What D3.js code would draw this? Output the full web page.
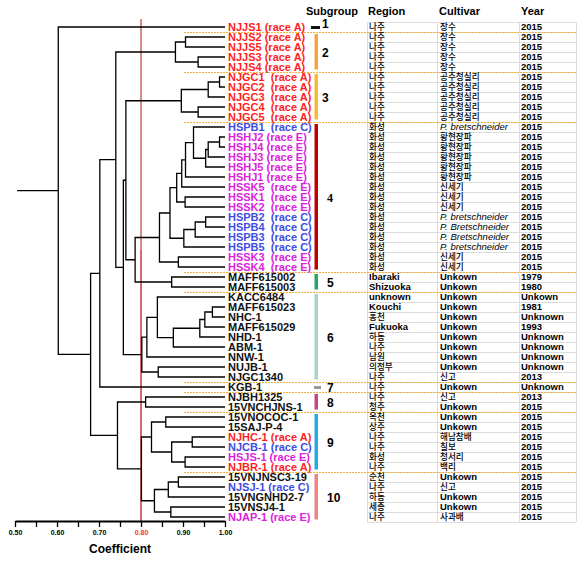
<!DOCTYPE html>
<html><head><meta charset="utf-8">
<script src="https://cdn.jsdelivr.net/npm/d3@7"></script>
<style>
body{margin:0;background:#fff;}
svg{display:block;font-family:"Liberation Sans",Arial,sans-serif;}
</style></head><body>
<svg id="c" width="577" height="562"></svg>
<script>
// ---------- DATA ----------
const leafIds = ["NJJS1","NJJS2","NJJS5","NJJS3","NJJS4","NJGC1","NJGC2","NJGC3","NJGC4","NJGC5",
 "HSPB1","HSHJ2","HSHJ4","HSHJ3","HSHJ5","HSHJ1","HSSK5","HSSK1","HSSK2","HSPB2","HSPB4","HSPB3","HSPB5","HSSK3","HSSK4",
 "MAFF615002","MAFF615003","KACC6484","MAFF615023","NHC-1","MAFF615029","NHD-1","ABM-1","NNW-1","NUJB-1","NJGC1340",
 "KGB-1","NJBH1325","15VNCHJNS-1","15VNOCOC-1","15SAJ-P-4","NJHC-1","NJCB-1","HSJS-1","NJBR-1",
 "15VNJNSC3-19","NJSJ-1","15VNGNHD2-7","15VNSJ4-1","NJAP-1"];
const leafLabels = ["NJJS1 (race A)","NJJS2 (race A)","NJJS5 (race A)","NJJS3 (race A)","NJJS4 (race A)",
 "NJGC1  (race A)","NJGC2  (race A)","NJGC3  (race A)","NJGC4  (race A)","NJGC5  (race A)",
 "HSPB1  (race C)","HSHJ2 (race E)","HSHJ4 (race E)","HSHJ3 (race E)","HSHJ5 (race E)","HSHJ1 (race E)",
 "HSSK5  (race E)","HSSK1  (race E)","HSSK2  (race E)","HSPB2  (race C)","HSPB4  (race C)","HSPB3  (race C)","HSPB5  (race C)",
 "HSSK3  (race E)","HSSK4  (race E)",
 "MAFF615002","MAFF615003","KACC6484","MAFF615023","NHC-1","MAFF615029","NHD-1","ABM-1","NNW-1","NUJB-1","NJGC1340",
 "KGB-1","NJBH1325","15VNCHJNS-1","15VNOCOC-1","15SAJ-P-4","NJHC-1 (race A)","NJCB-1 (race C)","HSJS-1 (race E)","NJBR-1 (race A)",
 "15VNJNSC3-19","NJSJ-1 (race C)","15VNGNHD2-7","15VNSJ4-1","NJAP-1 (race E)"];
const leafRace = ["A","A","A","A","A","A","A","A","A","A",
 "C","E","E","E","E","E","E","E","E","C","C","C","C","E","E",
 "","","","","","","","","","","",
 "","","","","","A","C","E","A",
 "","C","","","E"];
const raceColors = {A:"#ff1e1e", C:"#3e4ce4", E:"#dd22dd", "":"#111111"};
const regions = ["나주","나주","나주","나주","나주","나주","나주","나주","나주","나주",
 "화성","화성","화성","화성","화성","화성","화성","화성","화성","화성","화성","화성","화성","화성","화성",
 "Ibaraki","Shizuoka","unknown","Kouchi","홍천","Fukuoka","하동","나주","남원","의정부","나주",
 "나주","나주","청주","옥천","상주","나주","나주","화성","나주",
 "순천","나주","하동","세종","나주"];
const cultivars = ["장수","장수","장수","장수","장수","공주청실리","공주청실리","공주청실리","공주청실리","공주청실리",
 "P. bretschneider","황현장파","황현장파","황현장파","황현장파","황현장파","신세기","신세기","신세기",
 "P. bretschneider","P. Bretschneider","P. Bretschneider","P. bretschneider","신세기","신세기",
 "Unkown","Unkown","Unkown","Unkown","Unkown","Unkown","Unkown","Unkown","Unkown","Unkown","신고",
 "Unkown","신고","Unkown","Unkown","Unkown","해남참배","칠보","청서리","백리",
 "Unkown","신고","Unkown","Unkown","사과배"];
const years = ["2015","2015","2015","2015","2015","2015","2015","2015","2015","2015",
 "2015","2015","2015","2015","2015","2015","2015","2015","2015","2015","2015","2015","2015","2015","2015",
 "1979","1980","Unkown","1981","Unknown","1993","Unknown","Unknown","Unknown","Unknown","2013",
 "Unknown","2013","2015","2015","2015","2015","2015","2015","2015",
 "2015","2015","2015","2015","2015"];
// merges: [childA, childB, coefficient]; strings = leaves, numbers = earlier merge index
const merges = [
 ["NJJS2","NJJS5",0.906],        //0
 ["NJJS3","NJJS4",0.936],        //1
 [0,1,0.882],                    //2
 ["NJGC1","NJGC2",0.987],        //3
 [3,"NJGC3",0.960],              //4
 ["NJGC4","NJGC5",0.936],        //5
 [4,5,0.896],                    //6
 ["HSHJ2","HSHJ4",0.987],        //7
 [7,"HSHJ3",0.960],              //8
 [8,"HSHJ5",0.954],              //9
 ["HSPB1",9,0.925],              //10
 [10,"HSHJ1",0.906],             //11
 [11,"HSSK5",0.897],             //12
 ["HSSK1","HSSK2",0.905],        //13
 [12,13,0.885],                  //14
 ["HSPB2","HSPB4",0.954],        //15
 [15,"HSPB3",0.929],             //16
 [16,"HSPB5",0.902],             //17
 [14,17,0.869],                  //18
 ["HSSK3","HSSK4",0.889],        //19
 [18,19,0.844],                  //20
 ["MAFF615002","MAFF615003",0.873], //21
 [20,21,0.786],                  //22
 [6,22,0.764],                   //23
 ["MAFF615023","NHC-1",0.970],   //24
 [24,"MAFF615029",0.952],        //25
 [25,"NHD-1",0.940],             //26
 [26,"ABM-1",0.877],             //27
 ["KACC6484",27,0.839],          //28
 [28,"NNW-1",0.814],             //29
 ["NUJB-1","NJGC1340",0.841],    //30
 [29,30,0.802],                  //31
 [23,31,0.758],                  //32
 [2,32,0.740],                   //33
 [33,"KGB-1",0.702],             //34
 ["NJBH1325","15VNCHJNS-1",0.811], //35
 ["15VNOCOC-1","15SAJ-P-4",0.859], //36
 ["NJHC-1","NJCB-1",0.922],      //37
 ["HSJS-1","NJBR-1",0.905],      //38
 [37,38,0.873],                  //39
 [36,39,0.825],                  //40
 ["15VNJNSC3-19","NJSJ-1",0.889],//41
 [41,"15VNGNHD2-7",0.865],       //42
 ["15VNSJ4-1","NJAP-1",0.871],   //43
 [42,43,0.832],                  //44
 [40,44,0.801],                  //45
 [35,45,0.744],                  //46
 [34,46,0.680],                  //47
 ["NJJS1",47,0.603]              //48 root
];
const subgroupNames = ["1","2","3","4","5","6","7","8","9","10"];
const subgroupFirst = [0,1,5,10,25,27,36,37,39,45];
const subgroupLast  = [0,4,9,24,26,35,36,38,44,49];
const subgroupColors = ["#111111","#f6a53a","#f8bb2e","#c00000","#2aa862","#a6d4c6","#9a9a9a","#c8457f","#27a9e1","#ef8282"];
const axisTicks = [0.50,0.55,0.60,0.65,0.70,0.75,0.80,0.85,0.90,0.95,1.00];
const axisLabelValues = [0.50,0.60,0.70,0.80,0.90,1.00];
const cutoff = 0.80;
const headers = ["Subgroup","Region","Cultivar","Year"];

// ---------- DRAW ----------
const svg = d3.select("#c");
const x = d3.scaleLinear().domain([0.5,1.0]).range([15,225]);
const y = d3.scalePoint().domain(leafIds).range([27,517]);
const rowTop = i => y(leafIds[i]) - 5;

// table grid
const tX = [367,437,519,576];
const grid = svg.append("g").attr("stroke","#dcdcdc").attr("stroke-width",1).attr("shape-rendering","crispEdges");
d3.range(leafIds.length+1).forEach(i=>{
  const yy = (i<leafIds.length? rowTop(i) : rowTop(i-1)+10);
  grid.append("line").attr("x1",tX[0]).attr("x2",tX[3]).attr("y1",yy+0.5).attr("y2",yy+0.5);
});
tX.forEach(v=>grid.append("line").attr("x1",v+0.5).attr("x2",v+0.5).attr("y1",rowTop(0)).attr("y2",rowTop(leafIds.length-1)+10));

// cutoff line
const cx = x(cutoff);
svg.append("line").attr("x1",cx).attr("x2",cx).attr("y1",19).attr("y2",250)
  .attr("stroke","#d48c8c").attr("stroke-width",2);
svg.append("line").attr("x1",cx).attr("x2",cx).attr("y1",250).attr("y2",521)
  .attr("stroke","#c42a2e").attr("stroke-width",1.4);

// dendrogram
const nodes = [];
const pos = r => typeof r === "string" ? {x:x(1.0), y:y(r)} : nodes[r];
merges.forEach((m,i)=>{
  const a = pos(m[0]), b = pos(m[1]);
  nodes[i] = {x:x(m[2]), y:(a.y+b.y)/2, a, b};
});
const p = d3.path();
nodes.forEach(n=>{
  p.moveTo(n.a.x, n.a.y); p.lineTo(n.x, n.a.y); p.lineTo(n.x, n.b.y); p.lineTo(n.b.x, n.b.y);
});
const root = nodes[nodes.length-1];
p.moveTo(x(0.5)+2, root.y); p.lineTo(root.x, root.y);
svg.append("path").attr("d",p.toString()).attr("fill","none").attr("stroke","#000").attr("stroke-width",1.3);

// group separators
const seps = subgroupFirst.slice(1);
svg.append("g").selectAll("line").data(seps).join("line")
  .attr("x1",184).attr("x2",577)
  .attr("y1",d=>rowTop(d)+0.5).attr("y2",d=>rowTop(d)+0.5)
  .attr("stroke","#f0b040").attr("stroke-width",1).attr("stroke-dasharray","2,1");

// leaf labels
svg.append("g").selectAll("text").data(leafIds).join("text")
  .attr("x",228).attr("y",d=>y(d)+4)
  .attr("font-size",11).attr("font-weight","bold")
  .style("white-space","pre")
  .attr("fill",(d,i)=>raceColors[leafRace[i]])
  .text((d,i)=>leafLabels[i]);

// subgroup bars
const sg = svg.append("g");
subgroupNames.forEach((nm,k)=>{
  const y0 = y(leafIds[subgroupFirst[k]]), y1 = y(leafIds[subgroupLast[k]]);
  if (subgroupFirst[k]===subgroupLast[k]) {
    sg.append("rect").attr("x", k===0?311:314).attr("y",y0-1).attr("width",k===0?9:7).attr("height",3)
      .attr("fill",subgroupColors[k]);
  } else {
    sg.append("rect").attr("x",314.5).attr("y",y0-3).attr("width",3.5).attr("height",y1-y0+5.5)
      .attr("fill",subgroupColors[k]);
  }
  sg.append("text").attr("x", k<3?322:327).attr("y",(y0+y1)/2+ (k===0?1:4.5))
    .attr("font-size",12).attr("font-weight","bold")
    .attr("font-family", k===3?"'Liberation Serif',serif":null)
    .text(nm);
});

// headers
const hx = [306,368,439,521];
svg.append("g").selectAll("text").data(headers).join("text")
  .attr("x",(d,i)=>hx[i]).attr("y",15)
  .attr("font-size",11).attr("font-weight","bold").text(d=>d);

// table text
const isLatin = s => /^[A-Za-z0-9 .]+$/.test(s);
const cols = [regions,cultivars,years];
const colX = [369,440,521];
cols.forEach((arr,ci)=>{
  svg.append("g").selectAll("text").data(arr).join("text")
    .attr("x",colX[ci]).attr("y",(d,i)=>y(leafIds[i])+ (isLatin(d)?3.4:3.2))
    .attr("font-size",d=> isLatin(d) ? 9.5 : 8.6)
    .attr("font-weight",d=> isLatin(d) && !d.startsWith("P.") ? "bold" : (isLatin(d)?"normal":"500"))
    .attr("font-style",d=> d.startsWith("P.") ? "italic" : "normal")
    .attr("font-family",d=> isLatin(d) ? null : "'Noto Sans CJK KR',sans-serif")
    .attr("fill","#000")
    .text(d=>d);
});

// axis
const axis = d3.axisBottom(x).tickValues(axisTicks).tickSize(6).tickSizeOuter(0)
  .tickFormat(d=> axisLabelValues.some(v=>Math.abs(v-d)<1e-9) ? d.toFixed(2) : "");
const ag = svg.append("g").attr("transform","translate(0,521)").call(axis);
ag.select(".domain").attr("stroke","#000").attr("stroke-width",2.2);
ag.selectAll(".tick line").attr("stroke","#000").attr("stroke-width",1.3);
ag.selectAll(".tick text").attr("font-size",7).attr("font-weight","bold")
  .attr("font-family","'Liberation Sans',Arial,sans-serif").attr("y",9)
  .attr("fill",d=> Math.abs(d-cutoff)<1e-9 ? "#ff3030" : "#000");
svg.append("text").attr("x",120).attr("y",553).attr("text-anchor","middle")
  .attr("font-size",12).attr("font-weight","bold").text("Coefficient");
</script>
</body></html>
